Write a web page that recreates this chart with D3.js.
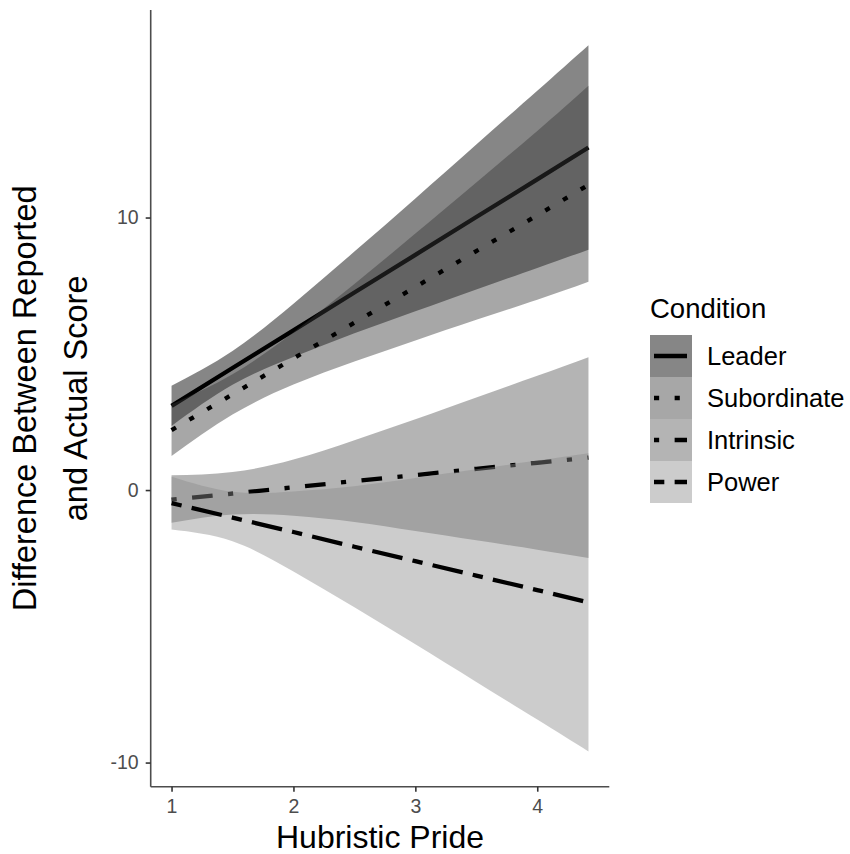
<!DOCTYPE html>
<html lang="en">
<head>
<meta charset="utf-8">
<title>Hubristic Pride</title>
<script src="https://d3js.org/d3.v7.min.js"></script>
<style>
  body { margin: 0; background: #fff; }
  svg { font-family: "Liberation Sans", Arial, Helvetica, sans-serif; }
</style>
</head>
<body>
<svg width="850" height="854"></svg>
<script>

// values
var hubris = [1, 1.5, 2, 2.5, 3, 3.5, 4, 4.42];
var conditions = ["Leader", "Subordinate", "Intrinsic", "Power"];

var leaderFit   = [3.09, 4.48, 5.86, 7.25, 8.63, 10.02, 11.40, 12.57];
var leaderLow   = [2.35, 3.86, 4.88, 5.75, 6.56, 7.36, 8.15, 8.82];
var leaderHigh  = [3.83, 5.10, 6.84, 8.75, 10.70, 12.68, 14.65, 16.32];

var subFit      = [2.20, 3.51, 4.83, 6.14, 7.45, 8.77, 10.08, 11.20];
var subLow      = [1.25, 2.77, 3.87, 4.72, 5.49, 6.25, 6.98, 7.64];
var subHigh     = [3.15, 4.25, 5.79, 7.56, 9.41, 11.29, 13.18, 14.84];

var intrFit     = [-0.35, -0.13, 0.10, 0.33, 0.55, 0.78, 1.00, 1.19];
var intrLow     = [-1.20, -0.90, -0.94, -1.17, -1.50, -1.84, -2.19, -2.49];
var intrHigh    = [0.54, 0.66, 1.12, 1.83, 2.60, 3.40, 4.19, 4.87];

var powFit      = [-0.48, -1.01, -1.54, -2.08, -2.61, -3.14, -3.67, -4.12];
var powLow      = [-1.45, -1.88, -2.99, -4.30, -5.66, -7.04, -8.42, -9.59];
var powHigh     = [0.49, -0.06, -0.05, 0.14, 0.44, 0.76, 1.08, 1.35];

var xTicks = [1, 2, 3, 4];
var yTicks = [-10, 0, 10];

// grey ribbons with alpha, like geom_smooth
var fills    = ["#000000", "#363636", "#545454", "#8a8a8a"];
var alphas   = [0.475, 0.438, 0.438, 0.438];
var u = 5.16; // dash unit
var dashes   = [null, [u, 3*u], [u, 3*u, 4*u, 3*u], [2*u, 2*u, 6*u, 2*u]];

var fits  = [leaderFit, subFit, intrFit, powFit];
var lows  = [leaderLow, subLow, intrLow, powLow];
var highs = [leaderHigh, subHigh, intrHigh, powHigh];

var series = conditions.map(function(c, i) {
  return {
    name: c,
    pts: hubris.map(function(h, j) {
      return {x: h, fit: fits[i][j], lo: lows[i][j], hi: highs[i][j]};
    })
  };
});

var svg = d3.select("svg");
var panel = {left: 150.7, right: 609.3, top: 10, bottom: 786.7};

// ggplot style 5% expansion
function expand(ext) {
  var d = (ext[1] - ext[0]) * 0.05;
  return [ext[0] - d, ext[1] + d];
}
var allY = [].concat.apply([], lows.concat(highs));

var x = d3.scaleLinear().domain(expand(d3.extent(hubris))).range([panel.left, panel.right]);
var y = d3.scaleLinear().domain(expand(d3.extent(allY))).range([panel.bottom, panel.top]);

var area = d3.area()
    .x(function(d) { return x(d.x); })
    .y0(function(d) { return y(d.lo); })
    .y1(function(d) { return y(d.hi); })
    .curve(d3.curveNatural);

var line = d3.line()
    .x(function(d) { return x(d.x); })
    .y(function(d) { return y(d.fit); });

// ribbon then line for each group, in order
var grp = svg.append("g").selectAll("g")
    .data(series)
  .enter().append("g");

grp.append("path")
    .attr("d", function(d) { return area(d.pts); })
    .attr("fill", function(d, i) { return fills[i]; })
    .attr("fill-opacity", function(d, i) { return alphas[i]; });

grp.append("path")
    .attr("d", function(d) { return line(d.pts); })
    .attr("fill", "none")
    .attr("stroke", "#000")
    .attr("stroke-width", 4.3)
    .attr("stroke-dasharray", function(d, i) { return dashes[i] ? dashes[i].join(" ") : null; });

// axes
var fmt = function(d) { return String(d); }; // plain hyphen minus, as in R

var xAxis = svg.append("g")
    .attr("transform", "translate(0," + panel.bottom + ")")
    .call(d3.axisBottom(x).tickValues(xTicks).tickSize(5).tickPadding(4).tickFormat(fmt));
xAxis.select(".domain").attr("d", "M" + panel.left + ",0H" + panel.right);

var yAxis = svg.append("g")
    .attr("transform", "translate(" + panel.left + ",0)")
    .call(d3.axisLeft(y).tickValues(yTicks).tickSize(5).tickPadding(7).tickFormat(fmt));
yAxis.select(".domain").attr("d", "M0," + panel.top + "V" + panel.bottom);

svg.selectAll(".domain").attr("stroke", "#4d4d4d").attr("stroke-width", 1.6);
svg.selectAll(".tick line").attr("stroke", "#333").attr("stroke-width", 1.6);
svg.selectAll(".tick text")
    .attr("fill", "#4d4d4d")
    .style("font-size", "19.5px")
    .style("font-family", "'Liberation Sans', Arial, sans-serif");
xAxis.selectAll(".tick text").attr("dy", "0.9em");

// axis titles
svg.append("text")
    .attr("x", (panel.left + panel.right) / 2)
    .attr("y", 848)
    .attr("text-anchor", "middle")
    .style("font-size", "32px")
    .text("Hubristic Pride");

var yt = svg.append("text")
    .attr("transform", "translate(0," + ((panel.top + panel.bottom) / 2) + ") rotate(-90)")
    .attr("text-anchor", "middle")
    .style("font-size", "32.5px");
yt.append("tspan").attr("x", 0).attr("y", 36).text("Difference Between Reported");
yt.append("tspan").attr("x", 0).attr("y", 87).text("and Actual Score");

// legend
var lg = svg.append("g").attr("transform", "translate(650,0)");
lg.append("text")
    .attr("x", 0).attr("y", 318)
    .style("font-size", "27.5px")
    .text("Condition");

var key = lg.selectAll(".key")
    .data(conditions)
  .enter().append("g")
    .attr("class", "key")
    .attr("transform", function(d, i) { return "translate(0," + (335 + i * 42) + ")"; });

key.append("rect")
    .attr("width", 42).attr("height", 42)
    .attr("fill", "#fff");
key.append("rect")
    .attr("width", 42).attr("height", 42)
    .attr("fill", function(d, i) { return fills[i]; })
    .attr("fill-opacity", function(d, i) { return alphas[i]; });
key.append("line")
    .attr("x1", 4).attr("x2", 37)
    .attr("y1", 21).attr("y2", 21)
    .attr("stroke", "#000")
    .attr("stroke-width", 4.3)
    .attr("stroke-dasharray", function(d, i) { return dashes[i] ? dashes[i].join(" ") : null; });
key.append("text")
    .attr("x", 57).attr("y", 30)
    .style("font-size", "25.5px")
    .text(function(d) { return d; });

</script>
</body>
</html>
